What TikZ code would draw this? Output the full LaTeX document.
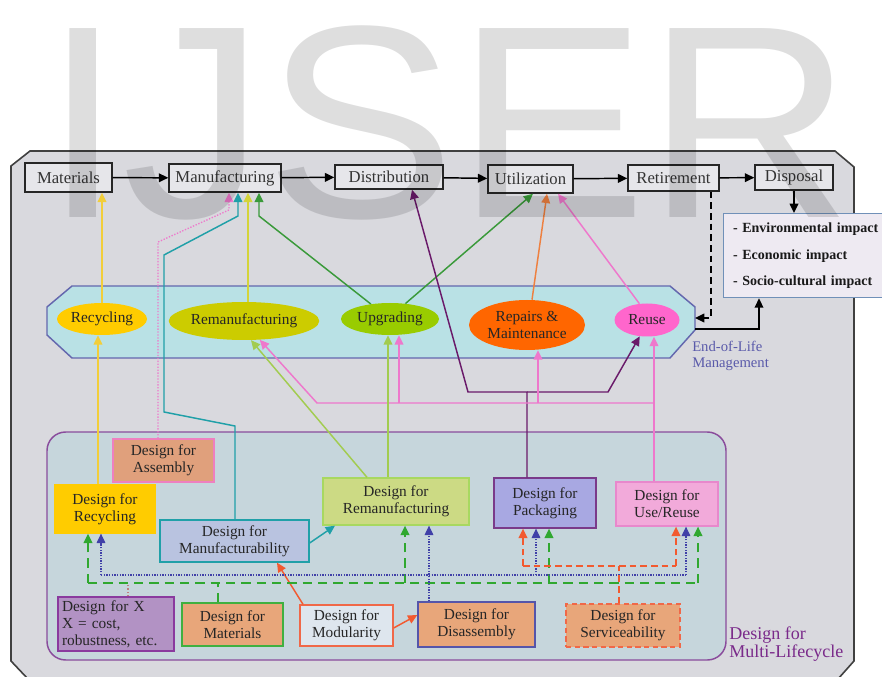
\documentclass[tikz,border=0pt]{standalone}
\usepackage{fontspec}
\setmainfont{Liberation Serif}
\newfontfamily\wmfont{Liberation Sans}
\usetikzlibrary{arrows.meta,shapes.geometric,calc}
\definecolor{frameBg}{HTML}{D9D9DE}
\definecolor{topFill}{HTML}{E6E6EA}
\definecolor{eolFill}{HTML}{B9E1E5}
\definecolor{eolLine}{HTML}{6467AE}
\definecolor{mlFill}{HTML}{C6D6DC}
\definecolor{mlLine}{HTML}{8A4C9C}
\definecolor{impFill}{HTML}{EEEAF2}
\definecolor{impLine}{HTML}{7090B8}
\definecolor{eolText}{HTML}{5A5AAA}
\definecolor{mlText}{HTML}{7A2A8A}
\definecolor{cGold}{HTML}{FFCC00}
\definecolor{cOlive}{HTML}{CCCC00}
\definecolor{cLime}{HTML}{99CC00}
\definecolor{cOrange}{HTML}{FF6600}
\definecolor{cPinkE}{HTML}{FF66CC}
\definecolor{aYel}{HTML}{F2CE3A}
\definecolor{aOlive}{HTML}{D4D43A}
\definecolor{aGreen}{HTML}{3A9A3A}
\definecolor{aOrange}{HTML}{EE8040}
\definecolor{aPink}{HTML}{EE78CC}
\definecolor{aPurple}{HTML}{6A1A6A}
\definecolor{aTeal}{HTML}{20A0A8}
\definecolor{aLight}{HTML}{A2CC50}
\definecolor{aRed}{HTML}{F25A30}
\definecolor{aBlue}{HTML}{4040A8}
\definecolor{aDGreen}{HTML}{30A830}
\definecolor{aBrown}{HTML}{C08080}
\definecolor{fAsm}{HTML}{E0A07C}\definecolor{lAsm}{HTML}{EE80C0}
\definecolor{fMan}{HTML}{B9C3E0}
\definecolor{fRem}{HTML}{CCDA84}\definecolor{lRem}{HTML}{A8D860}
\definecolor{fPak}{HTML}{A8A8E2}\definecolor{lPak}{HTML}{7A3A8A}
\definecolor{fUse}{HTML}{F2AADA}\definecolor{lUse}{HTML}{E888CC}
\definecolor{fX}{HTML}{B292C4}\definecolor{lX}{HTML}{8A3A9E}
\definecolor{fSal}{HTML}{E8A67A}
\definecolor{lMat}{HTML}{40B040}
\definecolor{fMod}{HTML}{DEE6EE}\definecolor{lMod}{HTML}{F06848}
\definecolor{lDis}{HTML}{5555AA}
\begin{document}
\begin{tikzpicture}[x=0.75pt,y=-0.75pt,
  topbox/.style={draw=black!85, line width=1.1pt, fill=topFill, inner sep=0pt, text=black!80, font=\fontsize{12.5}{14}\selectfont},
  dbox/.style={line width=1pt, inner sep=0pt, align=center, text=black!85, font=\fontsize{11.5}{12.8}\selectfont},
  eol/.style={ellipse, inner sep=0pt, align=center, text=black!85, font=\fontsize{11.5}{12.5}\selectfont},
  tip/.style={-{Triangle[length=7pt,width=6.5pt]}},
  conn/.style={tip, line width=1.1pt},
  gb/.style={aDGreen, line width=1.1pt, dash pattern=on 7pt off 4.5pt},
  bb/.style={aBlue, line width=0.8pt, dash pattern=on 1pt off 1pt},
  ob/.style={aRed, line width=1.1pt, dash pattern=on 5pt off 3pt}]
\useasboundingbox (0,0) rectangle (882,677);
\fill[white] (0,0) rectangle (882,677);
% outer frame
\draw[fill=frameBg, draw=black!75, line width=1.2pt] (30,151) -- (835,151) -- (854,167) -- (854,661) -- (838,679) -- (28,679) -- (11,661) -- (11,166) -- cycle;
% multi-lifecycle region
\draw[fill=mlFill, draw=mlLine, line width=1.1pt, rounded corners=14pt] (47,432) rectangle (726,660);
% end-of-life band
\draw[fill=eolFill, draw=eolLine, line width=1.1pt] (72,286) -- (670,286) -- (695,307) -- (695,330) -- (670,358) -- (72,358) -- (47,335) -- (47,307) -- cycle;
\coordinate (eolA) at (695,318);
\coordinate (eolB) at (695,329);
% top row
\node[topbox, minimum width=65.25pt, minimum height=21.75pt] (mat) at (68.5,177.5) {Materials};
\node[topbox, minimum width=84pt, minimum height=21pt] (man) at (225,178) {Manufacturing};
\node[topbox, minimum width=81pt, minimum height=18pt] (dis) at (389,177) {Distribution};
\node[topbox, minimum width=63.75pt, minimum height=21pt] (uti) at (530.5,179) {Utilization};
\node[topbox, minimum width=68.25pt, minimum height=19.5pt] (ret) at (673.5,178) {Retirement};
\node[topbox, minimum width=58.5pt, minimum height=18.75pt] (dsp) at (794,177.5) {Disposal};
\node[draw=impLine, fill=impFill, line width=1pt, anchor=north west, text width=110pt, inner xsep=7pt, inner ysep=0pt, minimum height=63pt, align=left, text=black!90, font=\bfseries\fontsize{10.5}{20}\selectfont] (imp) at (723,213) {- Environmental impact\\- Economic impact\\- Socio-cultural impact};
% ellipses
\node[eol, fill=cGold, minimum width=67.5pt, minimum height=24pt] (rec) at (102,319) {Recycling};
\node[eol, fill=cOlive, minimum width=108.75pt, minimum height=28.5pt] (rem) at (244,321) {Remanufacturing};
\node[eol, fill=cLime, minimum width=73.5pt, minimum height=24pt] (upg) at (390,319) {Upgrading};
\node[eol, fill=cOrange, minimum width=87pt, minimum height=37.5pt] (rep) at (527,325) {Repairs \&\\Maintenance};
\node[eol, fill=cPinkE, minimum width=48.75pt, minimum height=24.75pt] (reu) at (647,320) {Reuse};
% labels
\node[anchor=north west, align=left, inner sep=0pt, text=eolText, font=\fontsize{11}{12}\selectfont] (eolLab) at (692,341) {End-of-Life\\Management};
\node[anchor=west, align=left, inner sep=0pt, text=mlText, font=\fontsize{13.5}{13.5}\selectfont] (mlLab) at (729,644) {Design for\\Multi-Lifecycle};
% design boxes
\node[dbox, draw=lAsm, fill=fAsm, minimum width=75.75pt, minimum height=32.25pt] (dAsm) at (163.5,460.5) {Design for\\Assembly};
\node[dbox, draw=cGold, fill=cGold, minimum width=75pt, minimum height=36pt] (dRec) at (105,509) {Design for\\Recycling};
\node[dbox, draw=aTeal, fill=fMan, minimum width=111.75pt, minimum height=31.5pt] (dMan) at (234.5,541) {Design for\\Manufacturability};
\node[dbox, draw=lRem, fill=fRem, minimum width=109.5pt, minimum height=35.25pt] (dRem) at (396,501.5) {Design for\\Remanufacturing};
\node[dbox, draw=lPak, fill=fPak, minimum width=76.5pt, minimum height=37.5pt] (dPak) at (545,503) {Design for\\Packaging};
\node[dbox, draw=lUse, fill=fUse, minimum width=76.5pt, minimum height=33pt] (dUse) at (667,504) {Design for\\Use/Reuse};
\node[dbox, draw=lX, fill=fX, text width=81pt, inner xsep=3pt, align=left, minimum height=40.5pt] (dX) at (116,624) {Design for X\\X = cost,\\robustness, etc.};
\node[dbox, draw=lMat, fill=fSal, minimum width=75.75pt, minimum height=32.25pt] (dMat) at (232.5,624.5) {Design for\\Materials};
\node[dbox, draw=lMod, fill=fMod, minimum width=69.75pt, minimum height=30.75pt] (dMod) at (346.5,625.5) {Design for\\Modularity};
\node[dbox, draw=lDis, fill=fSal, minimum width=87.75pt, minimum height=33.75pt] (dDis) at (476.5,624.5) {Design for\\Disassembly};
\node[dbox, draw=lMod, fill=fSal, dash pattern=on 4pt off 2.5pt, minimum width=85.5pt, minimum height=32.25pt] (dSer) at (623,625.5) {Design for\\Serviceability};
% lifecycle chain
\draw[conn, black] (mat) -- (man);
\draw[conn, black] (man) -- (dis);
\draw[conn, black] (dis) -- (uti);
\draw[conn, black] (uti) -- (ret);
\draw[conn, black] (ret) -- (dsp);
\draw[conn, black] (dsp.south) -- (dsp.south |- imp.north);
\draw[tip, black, line width=1.1pt, dash pattern=on 5pt off 3pt] (ret.south -| 711,0) |- (eolA);
\draw[conn, black] (eolB) -| (imp.south -| 759,0);
% end-of-life to lifecycle
\draw[conn, aYel] (rec.north) -- (rec.north |- mat.south);
\draw[conn, aOlive] (rem.north -| 248,0) -- (man.south -| 248,0);
\draw[conn, aGreen] (upg.142) -- (259,216) -- (man.south -| 259,0);
\draw[conn, aGreen] (upg.45) -- (uti.south -| 533,0);
\draw[conn, aOrange] (rep.north -| 532,0) -- (uti.south -| 547,0);
\draw[conn, aPink] (reu.115) -- (uti.south -| 558,0);
% design to lifecycle / end-of-life
\draw[conn, aYel] (dRec.north -| 98,0) -- (rec.south -| 98,0);
\draw[tip, aPink, line width=1pt, dash pattern=on 1pt off 1.2pt] (dAsm.north -| 158,0) -- (158,242) -- (229,210) -- (man.south -| 229,0);
\draw[conn, aTeal] (dMan.north -| 235,0) -- (235,426) -- (164,412) -- (164,255) -- (238,216) -- (man.south -| 238,0);
\coordinate (pj) at (527,392);
\draw[conn, aPurple] (dPak.north -| pj) -- (pj) -- (468,392) -- (dis.south -| 412,0);
\draw[conn, aPurple] (pj) -- (608,392) -- (reu.246);
\coordinate (pk) at (654,403);
\draw[conn, aPink] (dUse.north -| pk) -- (reu.south -| pk);
\draw[conn, aPink] (pk) -- (317,403) -- (rem.310);
\draw[conn, aPink] (399,403) -- (upg.south -| 399,0);
\draw[conn, aPink] (538,403) -- (rep.south -| 538,0);
\draw[conn, aLight] (dRem.north -| 367,0) -- (rem.290);
\draw[conn, aLight] (dRem.north -| 388,0) -- (upg.south -| 388,0);
% inside design region
\draw[conn, aTeal] (dMan.east |- 0,543) -- (dRem.south west -| 335,0);
\draw[conn, aRed] (dMod.north -| 303,0) -- (dMan.south -| 277,0);
\draw[conn, aRed] (dMod.east |- 0,628) -- (dDis.west |- 0,615);
% green dashed bus
\draw[gb] (88,583) -- (698,583);
\draw[gb, tip] (88,583) -- (dRec.south -| 88,0);
\draw[gb, tip] (405,583) -- (dRem.south -| 405,0);
\draw[gb, tip] (549,583) -- (dPak.south -| 549,0);
\draw[gb, tip] (698,583) -- (dUse.south -| 698,0);
\draw[gb] (dMat.north -| 218,0) -- (218,583);
\draw[aBrown, line width=0.9pt, dash pattern=on 1pt off 1.5pt] (dX.north -| 128,0) -- (128,583);
% blue dotted bus
\draw[bb] (101,575) -- (686,575);
\draw[bb, tip] (101,575) -- (dRec.south -| 101,0);
\draw[bb, tip] (536,575) -- (dPak.south -| 536,0);
\draw[bb, tip] (686,575) -- (dUse.south -| 686,0);
\draw[bb, tip] (dDis.north -| 429,0) -- (dRem.south -| 429,0);
% orange dashed bus
\draw[ob] (dSer.north -| 619,0) -- (619,566);
\draw[ob] (523,566) -- (676,566);
\draw[ob, tip] (523,566) -- (dPak.south -| 523,0);
\draw[ob, tip] (676,566) -- (dUse.south -| 676,0);
% watermark
\node[anchor=base west, inner sep=0pt, text=black, text opacity=0.13, font=\wmfont\fontsize{206}{206}\selectfont] (wm) at (43,218) {\scalebox{1.04}[1]{IJSER}};
\end{tikzpicture}
\end{document}
